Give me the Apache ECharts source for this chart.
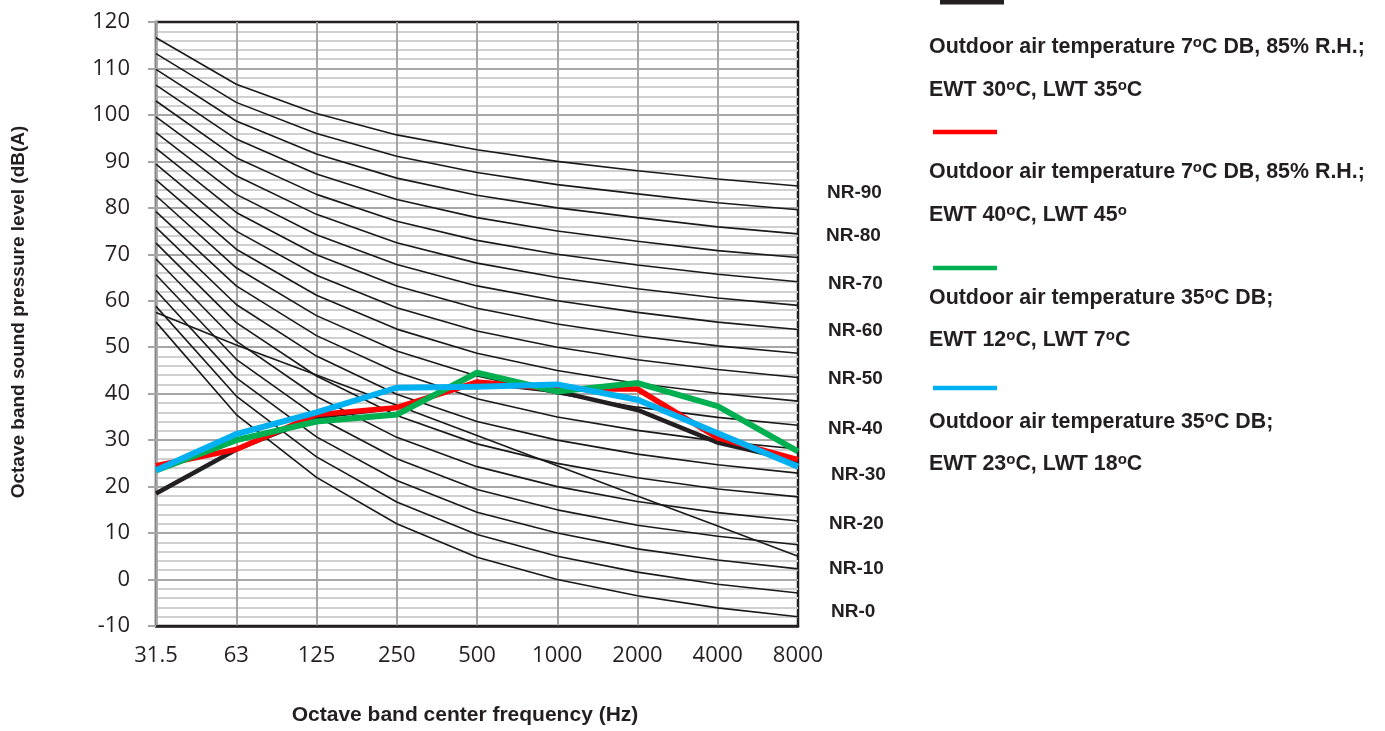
<!DOCTYPE html>
<html>
<head>
<meta charset="utf-8">
<script src="https://cdn.jsdelivr.net/npm/echarts@6/dist/echarts.min.js"></script>
<style>
html,body{margin:0;padding:0;background:#fff;}
#chart{width:1385px;height:731px;}
</style>
</head>
<body>
<div id="chart"></div>
<script>
// ---------- data ----------
const categories = ['31.5', '63', '125', '250', '500', '1000', '2000', '4000', '8000'];

// NR reference curves (dB)
const nr0  = [55.4, 35.5, 22.0, 12.0, 4.8, 0, -3.5, -6.1, -8.0];
const nr5  = [58.8, 39.5, 26.4, 16.7, 9.7, 5, 1.6, -1.0, -2.9];
const nr10 = [62.2, 43.4, 30.7, 21.3, 14.5, 10, 6.6, 4.2, 2.3];
const nr15 = [65.6, 47.4, 35.1, 26.0, 19.4, 15, 11.7, 9.3, 7.5];
const nr20 = [69.0, 51.3, 39.4, 30.6, 24.3, 20, 16.8, 14.4, 12.6];
const nr25 = [72.4, 55.3, 43.8, 35.3, 29.2, 25, 21.9, 19.5, 17.8];
const nr30 = [75.8, 59.2, 48.1, 39.9, 34.0, 30, 27.0, 24.7, 22.9];
const nr35 = [79.2, 63.2, 52.5, 44.6, 38.9, 35, 32.1, 29.8, 28.1];
const nr40 = [82.6, 67.1, 56.8, 49.2, 43.8, 40, 37.1, 34.9, 33.2];
const nr45 = [86.0, 71.1, 61.2, 53.9, 48.7, 45, 42.2, 40.1, 38.4];
const nr50 = [89.4, 75.0, 65.5, 58.5, 53.5, 50, 47.3, 45.2, 43.5];
const nr55 = [92.8, 79.0, 69.9, 63.2, 58.4, 55, 52.4, 50.3, 48.7];
const nr60 = [96.2, 82.9, 74.2, 67.8, 63.2, 60, 57.5, 55.4, 53.8];
const nr65 = [99.6, 86.9, 78.6, 72.5, 68.1, 65, 62.6, 60.6, 59.0];
const nr70 = [103.0, 90.8, 82.9, 77.1, 73.0, 70, 67.7, 65.7, 64.1];
const nr75 = [106.4, 94.8, 87.3, 81.8, 77.9, 75, 72.8, 70.8, 69.3];
const nr80 = [109.8, 98.7, 91.6, 86.4, 82.7, 80, 77.9, 75.9, 74.4];
const nr85 = [113.2, 102.7, 96.0, 91.1, 87.6, 85, 83.0, 81.1, 79.6];
const nr90 = [116.6, 106.6, 100.3, 95.7, 92.5, 90, 88.0, 86.2, 84.7];
// stray reference line crossing the NR curves
const crossLine = [57.5, 50.5, 44, 37.5, 31, 24.5, 18, 11.5, 5];

// measured unit curves (dB(A))
const unitA = [18.5, 28, 35, 37, 42.5, 40.5, 36.5, 29.5, 25.5];   // black
const unitB = [24.5, 28, 35.5, 37, 42.5, 41, 41, 30.5, 25.8];     // red
const unitC = [23.5, 30, 34, 35.5, 44.5, 40.5, 42.3, 37.3, 27.6]; // green
const unitD = [23.5, 31.3, 36, 41.3, 41.5, 42, 38.7, 31.5, 24.3]; // blue

const nrLabels = ['NR-90', 'NR-80', 'NR-70', 'NR-60', 'NR-50', 'NR-40', 'NR-30', 'NR-20', 'NR-10', 'NR-0'];

const legendLine1 = [
  'Outdoor air temperature 7{s|o}C DB, 85% R.H.;',
  'Outdoor air temperature 7{s|o}C DB, 85% R.H.;',
  'Outdoor air temperature 35{s|o}C DB;',
  'Outdoor air temperature 35{s|o}C DB;'
];
const legendLine2 = [
  'EWT 30{s|o}C, LWT 35{s|o}C',
  'EWT 40{s|o}C, LWT 45{s|o}',
  'EWT 12{s|o}C, LWT 7{s|o}C',
  'EWT 23{s|o}C, LWT 18{s|o}C'
];
const seriesNames = [
  'Outdoor air temperature 7°C DB, 85% R.H.; EWT 30°C, LWT 35°C',
  'Outdoor air temperature 7°C DB, 85% R.H.; EWT 40°C, LWT 45°',
  'Outdoor air temperature 35°C DB; EWT 12°C, LWT 7°C',
  'Outdoor air temperature 35°C DB; EWT 23°C, LWT 18°C'
];

// ---------- styling ----------
const TXT = '#231f20';
const SANS = "'Liberation Sans', Arial, sans-serif";
const nrCurves = [nr0, nr5, nr10, nr15, nr20, nr25, nr30, nr35, nr40, nr45, nr50, nr55, nr60, nr65, nr70, nr75, nr80, nr85, nr90, crossLine];
const unitCurves = [unitA, unitB, unitC, unitD];
const unitColors = ['#231f20', '#ff0000', '#00b050', '#00b0f0'];
const unitWidths = [4.5, 5.5, 6, 6];

const series = [];
nrCurves.forEach((d, i) => {
  series.push({
    name: 'NR' + i,
    type: 'line',
    data: d,
    symbol: 'none',
    silent: true,
    z: 2,
    lineStyle: { color: '#1a1a1a', width: 1.6 }
  });
});
unitCurves.forEach((d, i) => {
  series.push({
    name: seriesNames[i],
    type: 'line',
    data: d,
    symbol: 'none',
    z: 3 + i,
    lineStyle: { color: unitColors[i], width: unitWidths[i], join: 'miter' }
  });
});

// legend (drawn as graphic)
const legendLineY = [2, 132, 268, 388];
const legendText1Y = [47, 172, 298, 422];
const legendText2Y = [90, 215, 340, 464];
const richSup = {
  s: { fontSize: 15, fontWeight: 'bold', fontFamily: SANS, fill: TXT, color: TXT, verticalAlign: 'top', lineHeight: 9 }
};
const graphics = [];
unitColors.forEach((c, i) => {
  graphics.push({
    type: 'line',
    shape: { x1: i === 0 ? 940 : 933, y1: legendLineY[i], x2: i === 0 ? 1004 : 997, y2: legendLineY[i] },
    style: { stroke: c, lineWidth: i === 0 ? 5 : 4.5 }
  });
  [legendLine1[i], legendLine2[i]].forEach((t, k) => {
    graphics.push({
      type: 'text',
      x: 929,
      y: (k === 0 ? legendText1Y[i] : legendText2Y[i]),
      style: {
        text: t,
        fill: TXT,
        font: 'bold 21.4px ' + SANS,
        verticalAlign: 'middle',
        lineHeight: 24,
        rich: richSup
      }
    });
  });
});
const nrLabelX = [827, 826, 828, 828, 828, 828, 831, 829, 829, 831];
const nrLabelY = [193, 236, 284, 331, 379, 429, 475, 524, 569, 612];
nrLabels.forEach((t, i) => {
  graphics.push({
    type: 'text',
    x: nrLabelX[i],
    y: nrLabelY[i],
    style: { text: t, fill: TXT, font: 'bold 19px ' + SANS, verticalAlign: 'middle' }
  });
});

const chart = echarts.init(document.getElementById('chart'), null, { renderer: 'canvas' });
chart.setOption({
  animation: false,
  backgroundColor: '#ffffff',
  grid: {
    left: 156, right: 587, top: 22, bottom: 104.5,
    show: true, borderColor: '#231f20', borderWidth: 2.5, backgroundColor: 'transparent'
  },
  xAxis: {
    type: 'category',
    data: categories,
    boundaryGap: false,
    name: 'Octave band center frequency (Hz)',
    nameLocation: 'middle',
    nameGap: 79,
    nameTextStyle: { fontFamily: SANS, fontWeight: 'bold', fontSize: 21, color: TXT, padding: [0, 24, 0, 0] },
    axisLine: { show: true, onZero: false, lineStyle: { color: '#231f20', width: 2.5 } },
    axisTick: { show: false },
    axisLabel: { fontFamily: "'Open Sans', sans-serif", fontSize: 22, color: TXT, margin: 19 },
    splitLine: { show: true, showMinLine: false, showMaxLine: false, lineStyle: { color: '#a6a6a6', width: 2 } }
  },
  yAxis: {
    type: 'value',
    min: -10, max: 120, interval: 10,
    name: 'Octave band sound pressure level (dB(A)',
    nameLocation: 'middle',
    nameGap: 128,
    nameTextStyle: { fontFamily: SANS, fontWeight: 'bold', fontSize: 19, color: TXT, padding: [0, 0, 0, 24] },
    axisLine: { show: true, lineStyle: { color: '#a6a6a6', width: 2.5 } },
    axisTick: { show: true, length: 8, lineStyle: { color: '#a6a6a6', width: 2 } },
    axisLabel: { fontFamily: "'Open Sans', sans-serif", fontSize: 22, color: TXT, margin: 26 },
    splitLine: { show: true, showMinLine: false, showMaxLine: false, lineStyle: { color: '#a6a6a6', width: 2 } },
    minorTick: { show: false, splitNumber: 5 },
    minorSplitLine: { show: true, lineStyle: { color: '#d0d0d0', width: 2 } }
  },
  series: series,
  graphic: graphics
});
</script>
</body>
</html>
